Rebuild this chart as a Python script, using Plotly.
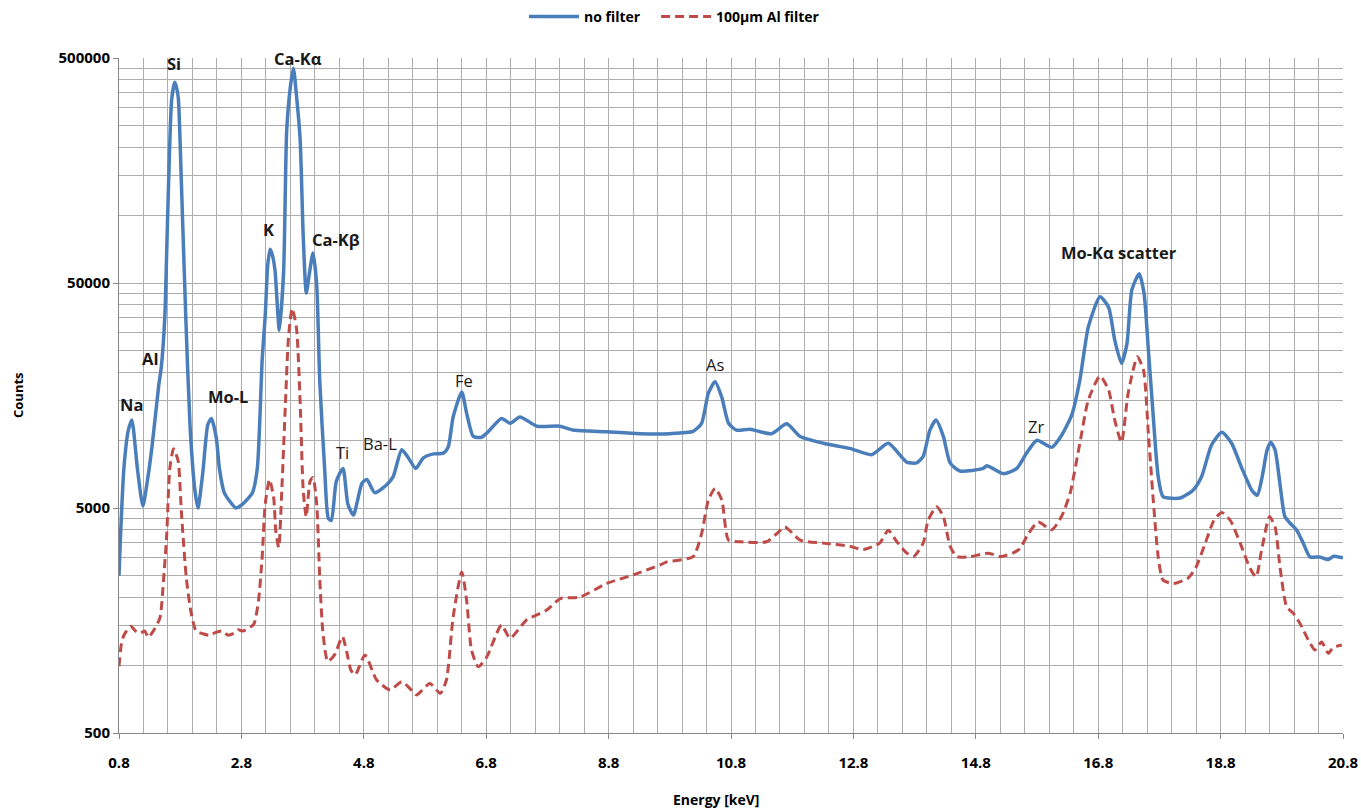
import math
import plotly.graph_objects as go

# ---------------- data ----------------
energy_nofilter = [
    0.80, 0.82, 0.88, 0.95, 1.01, 1.10, 1.19, 1.26, 1.34, 1.45, 1.49, 1.55, 1.58, 1.61, 1.66,
    1.71, 1.74, 1.77, 1.82, 1.89, 1.96, 2.04, 2.09, 2.17, 2.25, 2.31, 2.39, 2.44, 2.52, 2.60,
    2.71, 2.82, 2.98, 3.06, 3.14, 3.19, 3.23, 3.27, 3.31, 3.35, 3.42, 3.49, 3.54, 3.60, 3.65,
    3.70, 3.76, 3.81, 3.86, 3.91, 3.97, 4.03, 4.08, 4.16, 4.22, 4.27, 4.35, 4.46, 4.54, 4.63,
    4.77, 4.85, 4.98, 5.17, 5.28, 5.42, 5.53, 5.65, 5.77, 5.94, 6.10, 6.18, 6.26, 6.40, 6.48,
    6.59, 6.72, 6.83, 7.05, 7.19, 7.35, 7.63, 8.00, 8.22, 8.77, 9.31, 9.80, 10.18, 10.32, 10.43,
    10.54, 10.65, 10.76, 10.89, 11.11, 11.46, 11.71, 11.93, 12.31, 12.74, 13.10, 13.37, 13.67,
    13.83, 13.94, 14.05, 14.15, 14.27, 14.38, 14.54, 14.92, 14.98, 15.25, 15.47, 15.63, 15.80,
    16.04, 16.20, 16.37, 16.50, 16.64, 16.83, 16.97, 17.07, 17.18, 17.27, 17.35, 17.47, 17.55,
    17.62, 17.70, 17.78, 17.86, 18.14, 18.35, 18.49, 18.65, 18.82, 18.98, 19.14, 19.31, 19.40,
    19.48, 19.56, 19.62, 19.69, 19.77, 19.85, 19.93, 20.04, 20.15, 20.26, 20.42, 20.55, 20.65,
    20.80,
]
counts_nofilter = [
    2500, 3500, 7500, 11000, 12300, 7500, 5100, 6500, 9400, 17600, 21000, 36000, 70000, 138000, 325000,
    390000, 370000, 330000, 138000, 36000, 11700, 6000, 5000, 7200, 11700, 12500, 10250, 7500, 5850, 5400,
    5000, 5200, 5850, 7500, 23000, 36000, 60000, 70600, 66000, 56500, 30800, 56500, 237000, 372000, 450000,
    340000, 217000, 80900, 45100, 55000, 68000, 49300, 18400, 7500, 4500, 4400, 6550, 7500, 5200, 4650,
    6440, 6700, 5850, 6330, 6890, 9070, 8340, 7500, 8340, 8700, 8770, 9350, 12700, 16400, 13200,
    10400, 10300, 10900, 12500, 11900, 12700, 11550, 11550, 11100, 10900, 10700, 10700, 10950, 11900, 16200,
    18200, 15500, 11900, 11100, 11200, 10700, 11830, 10400, 9700, 9200, 8630, 9700, 8000,
    7930, 8480, 11100, 12300, 10400, 7930, 7300, 7500, 7700, 7100, 7500, 8770, 10000,
    9300, 10500, 13000, 18500, 32000, 43400, 39000, 27900, 22000, 26900, 46600, 55000, 44800,
    25200, 12700, 6900, 5620, 5540, 6000, 6900, 9500, 10850, 9700, 7600, 6000, 5700,
    6900, 9070, 9800, 9070, 6400, 4580, 4300, 4000, 3490, 3030, 3030, 2950, 3050,
    3000,
]

energy_alfilter = [
    0.80, 0.84, 0.88, 0.99, 1.07, 1.15, 1.22, 1.28, 1.38, 1.47, 1.53, 1.58, 1.63, 1.69, 1.73,
    1.77, 1.82, 1.90, 1.98, 2.06, 2.17, 2.28, 2.38, 2.49, 2.58, 2.68, 2.75, 2.82, 3.00, 3.08,
    3.14, 3.19, 3.26, 3.33, 3.36, 3.41, 3.46, 3.52, 3.57, 3.63, 3.70, 3.76, 3.81, 3.86, 3.92,
    3.97, 4.03, 4.08, 4.13, 4.21, 4.32, 4.45, 4.52, 4.59, 4.66, 4.82, 5.01, 5.23, 5.42, 5.55,
    5.66, 5.88, 6.05, 6.15, 6.26, 6.40, 6.48, 6.56, 6.67, 6.81, 7.05, 7.19, 7.46, 7.79, 8.01,
    8.33, 8.77, 9.20, 9.64, 9.75, 10.18, 10.32, 10.43, 10.54, 10.65, 10.76, 10.95, 11.38, 11.55,
    11.68, 11.93, 12.31, 12.74, 12.96, 13.23, 13.37, 13.51, 13.67, 13.78, 13.94, 14.02, 14.16,
    14.27, 14.38, 14.49, 14.71, 15.01, 15.20, 15.41, 15.52, 15.66, 15.82, 16.04, 16.20, 16.34,
    16.50, 16.64, 16.83, 16.97, 17.07, 17.18, 17.29, 17.44, 17.54, 17.62, 17.70, 17.78, 17.86,
    18.03, 18.26, 18.39, 18.55, 18.69, 18.82, 18.96, 19.12, 19.28, 19.38, 19.47, 19.60, 19.69,
    19.77, 19.88, 19.99, 20.10, 20.23, 20.34, 20.45, 20.56, 20.64, 20.78,
]
counts_alfilter = [
    990, 1250, 1360, 1490, 1420, 1390, 1420, 1330, 1450, 1630, 2440, 3820, 7490, 9160, 8700,
    8000, 4780, 2440, 1700, 1420, 1380, 1360, 1400, 1420, 1360, 1390, 1440, 1420, 1520, 1950,
    3050, 5230, 6690, 5470, 3990, 3340, 5990, 14700, 28800, 38500, 31500, 14700, 5990, 4570, 6550,
    6840, 5230, 2440, 1420, 1040, 1110, 1340, 1150, 950, 907, 1110, 860, 777, 845, 790,
    738, 830, 750, 860, 1640, 2600, 1950, 1170, 985, 1090, 1510, 1320, 1590, 1760, 1980,
    2010, 2310, 2520, 2790, 2880, 3040, 3850, 5420, 6110, 5420, 3600, 3540, 3540, 3850,
    4120, 3600, 3490, 3380, 3270, 3490, 3980, 3540, 3160, 3040, 3490, 4400, 5060,
    4580, 3380, 3040, 3040, 3150, 3040, 3160, 3300, 3850, 4330, 4000, 4580, 5800,
    9700, 15150, 19300, 16700, 12300, 9800, 16200, 23500, 20500, 10700, 5420, 3040, 2390,
    2310, 2430, 2700, 3490, 4400, 4780, 4400, 3490, 2700, 2470, 3250, 4580, 4120,
    2740, 1820, 1700, 1530, 1300, 1170, 1270, 1130, 1200, 1230,
]

peak_labels = ["Na", "Al", "Si", "Mo-L", "K", "Ca-Kα", "Ca-Kβ", "Ti", "Ba-L", "Fe", "As", "Zr",
               "Mo-Kα scatter"]
peak_energy = [1.00, 1.31, 1.70, 2.58, 3.25, 3.72, 4.35, 4.46, 5.06, 6.44, 10.54, 15.78, 17.14]
peak_counts = [14350, 23200, 474000, 15700, 86600, 500000, 77900, 8820, 9700, 18500, 21800, 11500,
               68000]
peak_bold = [True, True, True, True, True, True, True, False, False, False, False, False, True]

x_ticks = [0.8, 2.8, 4.8, 6.8, 8.8, 10.8, 12.8, 14.8, 16.8, 18.8, 20.8]
y_ticks = [500, 5000, 50000, 500000]

series_names = ["no filter", "100μm Al filter"]

# ---------------- figure ----------------
BLUE = "#4A7EBB"
RED = "#BE4B48"
GRID = "#ADADAD"
AXIS = "#868686"
FONT = "Open Sans"

fig = go.Figure()
fig.add_trace(go.Scatter(
    x=energy_nofilter, y=counts_nofilter, mode="lines",
    name=series_names[0] + "\u00a0\u00a0\u00a0",
    line=dict(color=BLUE, width=3.5, shape="spline", smoothing=0.6),
))
fig.add_trace(go.Scatter(
    x=energy_alfilter, y=counts_alfilter, mode="lines", name=series_names[1],
    line=dict(color=RED, width=3, dash="9px,5px", shape="spline", smoothing=0.6),
))

for lab, e, c, b in zip(peak_labels, peak_energy, peak_counts, peak_bold):
    fig.add_annotation(
        x=e, y=math.log10(c), text=lab, showarrow=False,
        font=dict(family=FONT, size=16.5, color="#1a1a1a", weight=700 if b else 500),
        xanchor="center", yanchor="middle",
    )

minor_y = [d * k for d in (500, 5000, 50000) for k in range(2, 10)]

fig.update_xaxes(
    range=[0.8, 20.8], tickmode="array", tickvals=x_ticks,
    ticktext=[f"{v:.1f}" for v in x_ticks],
    showgrid=True, gridcolor=GRID, gridwidth=1,
    minor=dict(dtick=0.4, tick0=0.8, showgrid=True, gridcolor=GRID, gridwidth=1),
    showline=True, linecolor=AXIS, linewidth=1,
    ticks="outside", ticklen=5, tickcolor=AXIS,
    tickfont=dict(family=FONT, size=15, color="#000", weight=700),
    ticklabelstandoff=11, zeroline=False, automargin=False,
)
fig.update_yaxes(
    type="log", range=[math.log10(500), math.log10(500000)],
    tickmode="array", tickvals=y_ticks, ticktext=[str(v) for v in y_ticks],
    showgrid=True, gridcolor=GRID, gridwidth=1,
    minor=dict(tickmode="array", tickvals=minor_y, showgrid=True, gridcolor=GRID, gridwidth=1),
    showline=True, linecolor=AXIS, linewidth=1,
    ticks="outside", ticklen=5, tickcolor=AXIS,
    tickfont=dict(family=FONT, size=15, color="#000", weight=700),
    zeroline=False, automargin=False,
)

fig.add_annotation(
    xref="paper", yref="paper", x=(18 - 119) / 1224, y=(733 - 395) / 675,
    xanchor="center", yanchor="middle",
    text="Counts", textangle=-90, showarrow=False,
    font=dict(family=FONT, size=13, color="#000", weight=700),
)
fig.add_annotation(
    xref="paper", yref="paper", x=(716 - 119) / 1224, y=(733 - 800) / 675,
    xanchor="center", yanchor="middle",
    text="Energy [keV]", showarrow=False,
    font=dict(family=FONT, size=14, color="#000", weight=700),
)

fig.update_layout(
    width=1361, height=809,
    margin=dict(l=119, r=18, t=58, b=76, autoexpand=False),
    paper_bgcolor="white", plot_bgcolor="white",
    showlegend=True,
    legend=dict(
        orientation="h", xref="container", x=524 / 1361, xanchor="left",
        yref="container", y=1 - 17 / 809, yanchor="middle",
        font=dict(family=FONT, size=14, color="#000", weight=700),
        itemwidth=50, bgcolor="rgba(0,0,0,0)",
    ),
)

fig.write_html("out.html")
